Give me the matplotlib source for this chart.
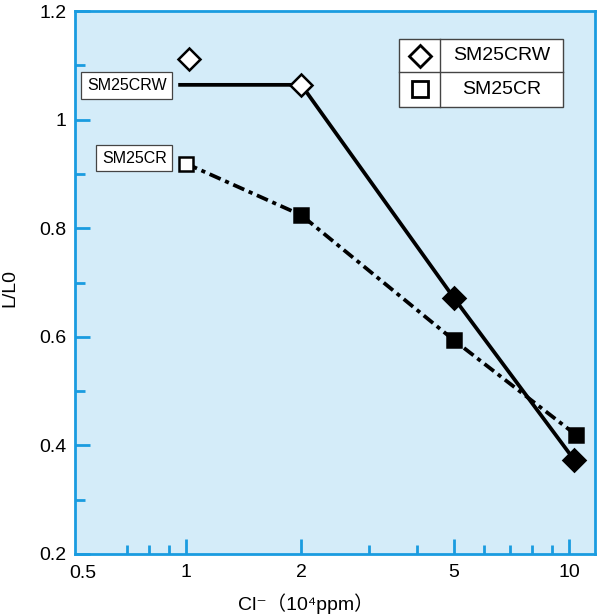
import matplotlib.pyplot as plt
import matplotlib.patches as mpatches
import numpy as np

# Cl- concentration (10^4 ppm) vs L/L0
crw_x = [1.02, 2.0, 5.0, 10.3]
crw_y = [1.112, 1.064, 0.672, 0.374]
crw_filled = [False, False, True, True]
crw_line_x = [0.965, 2.0, 5.0, 10.3]  # line starts at the label box
crw_line_y = [1.064, 1.064, 0.672, 0.374]

cr_x = [1.0, 2.0, 5.0, 10.4]
cr_y = [0.919, 0.824, 0.594, 0.420]
cr_filled = [False, True, True, True]

x_ticks = [1, 2, 5, 10]
x_tick_labels = ["1", "2", "5", "10"]
x_minor = [0.7, 0.8, 0.9, 3, 4, 6, 7, 8, 9]
y_ticks = [0.2, 0.4, 0.6, 0.8, 1.0, 1.2]
y_tick_labels = ["0.2", "0.4", "0.6", "0.8", "1", "1.2"]
y_minor = [0.3, 0.5, 0.7, 0.9, 1.1]

BG = "#d4ecf9"
SPINE = "#1a9ce0"

plt.rcParams["font.family"] = ["Liberation Sans", "DejaVu Sans", "Noto Sans CJK JP"]

fig = plt.figure(figsize=(5.97, 6.15), dpi=100)
ax = fig.add_axes([75 / 597, 61 / 615, 520 / 597, 543 / 615])
ax.set_facecolor(BG)
ax.set_xscale("log")
ax.set_xlim(0.513, 11.69)
ax.set_ylim(0.2, 1.2)

# lines
ax.plot(crw_line_x, crw_line_y, color="black", lw=2.7, zorder=3)
ax.plot(cr_x, cr_y, color="black", lw=2.7, dashes=(3.2, 1.3, 1.1, 1.3),
        dash_capstyle="butt", zorder=3)

# markers
for x, y, f in zip(crw_x, crw_y, crw_filled):
    ax.plot(x, y, marker="D", ms=11, mew=1.8, mec="black",
            mfc="black" if f else "white", zorder=4)
for x, y, f in zip(cr_x, cr_y, cr_filled):
    ax.plot(x, y, marker="s", ms=10.5, mew=1.8, mec="black",
            mfc="black" if f else "white", zorder=4)

# label boxes next to the open points
box = dict(boxstyle="square,pad=0.36", fc="white", ec="#444444", lw=0.9)
ax.text(0.89, 1.063, "SM25CRW", ha="right", va="center", fontsize=11.5,
        bbox=box, zorder=5)
ax.text(0.89, 0.929, "SM25CR", ha="right", va="center", fontsize=11.5,
        bbox=box, zorder=5)

# legend table
lx0, lx1, ldiv = 0.623, 0.938, 0.702
ly0, ly1, lmid = 0.823, 0.948, 0.888
ax.add_patch(mpatches.Rectangle((lx0, ly0), lx1 - lx0, ly1 - ly0,
                                transform=ax.transAxes, fc="white",
                                ec="#444444", lw=1.0, zorder=5))
ax.plot([ldiv, ldiv], [ly0, ly1], color="#444444", lw=1.0,
        transform=ax.transAxes, zorder=6)
ax.plot([lx0, lx1], [lmid, lmid], color="#444444", lw=1.0,
        transform=ax.transAxes, zorder=6)
mx = (lx0 + ldiv) / 2
tx = (ldiv + lx1) / 2
ax.plot(mx, (lmid + ly1) / 2, marker="D", ms=11, mew=2, mec="black",
        mfc="white", transform=ax.transAxes, zorder=7)
ax.plot(mx, (ly0 + lmid) / 2, marker="s", ms=11, mew=2, mec="black",
        mfc="white", transform=ax.transAxes, zorder=7)
ax.text(tx, (lmid + ly1) / 2, "SM25CRW", ha="center", va="center",
        fontsize=14, transform=ax.transAxes, zorder=7)
ax.text(tx, (ly0 + lmid) / 2, "SM25CR", ha="center", va="center",
        fontsize=14, transform=ax.transAxes, zorder=7)

# axes styling
for side in ["left", "bottom", "top", "right"]:
    ax.spines[side].set_color(SPINE)
    ax.spines[side].set_linewidth(2.0)

ax.set_xticks(x_ticks)
ax.set_xticklabels(x_tick_labels)
ax.set_xticks(x_minor, minor=True)
ax.set_xticklabels([], minor=True)
ax.set_yticks(y_ticks)
ax.set_yticklabels(y_tick_labels)
ax.set_yticks(y_minor, minor=True)
ax.tick_params(which="both", direction="in", color=SPINE, width=2.0,
               labelsize=14, top=False, right=False)
ax.tick_params(axis="x", which="major", length=10.5, pad=7)
ax.tick_params(axis="x", which="minor", length=6.5)
ax.tick_params(axis="y", which="major", length=10.5, pad=6)
ax.tick_params(axis="y", which="minor", length=7.5)
ax.text(0.015, -0.0195, "0.5", ha="center", va="top", fontsize=14,
        transform=ax.transAxes)

ax.set_xlabel("Cl\u207b\uff0810\u2074ppm\uff09", fontsize=14)
ax.xaxis.set_label_coords(0.444, -0.072)
ax.set_ylabel("L/L0", fontsize=14)
ax.yaxis.set_label_coords(-0.108, 0.49)

fig.savefig("out.png", dpi=100)
